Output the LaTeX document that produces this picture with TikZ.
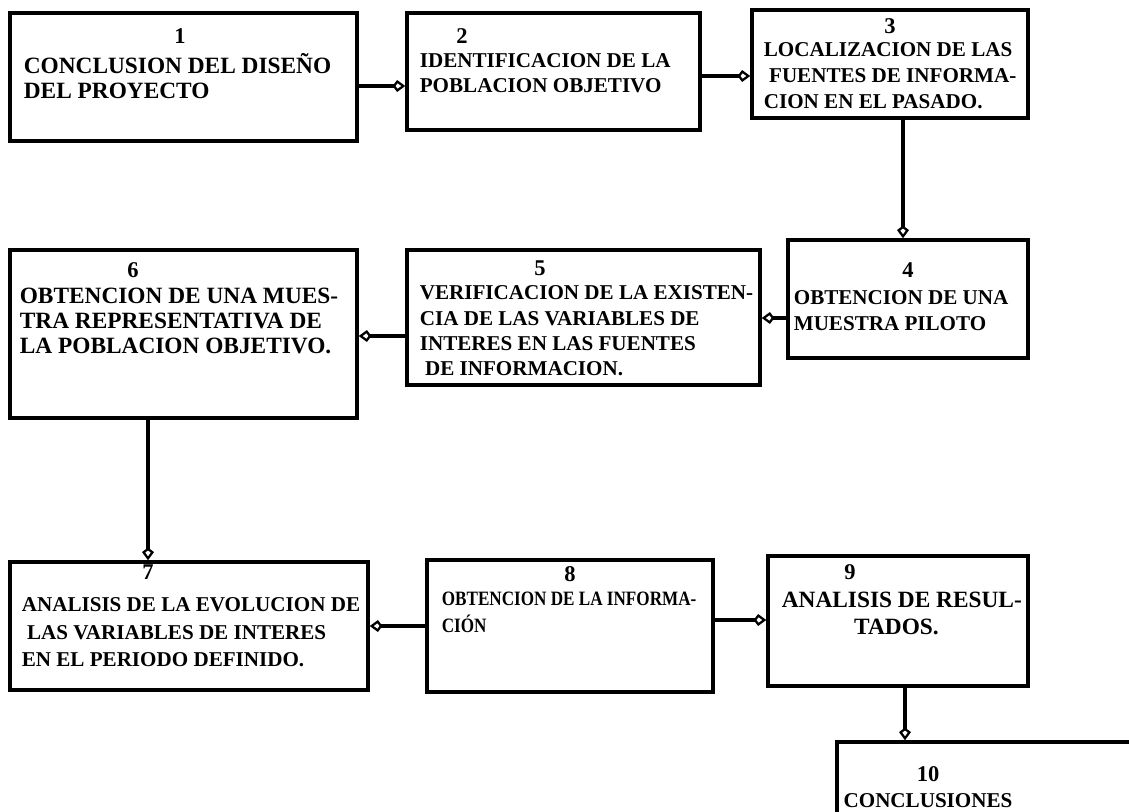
\documentclass[tikz,border=0pt]{standalone}
\usepackage{fontspec}
\setmainfont{Liberation Serif}
\newfontfamily\narrowserif[FakeStretch=0.84]{Liberation Serif}
\usetikzlibrary{arrows.meta,fit,positioning}

\tikzset{
  box/.style={draw, line width=2.5pt, inner sep=0pt, fit={#1}},
  txt/.style 2 args={anchor=north west, align=left, inner sep=0pt,
    font=\fontsize{#1}{#2}\selectfont\bfseries},
  num/.style={inner sep=0pt, font=\fontsize{16}{18}\selectfont\bfseries},
}

\begin{document}
\begin{tikzpicture}[x=0.025cm, y=-0.025cm, >={Kite[open,length=9pt,width=8.5pt,inset=3.2pt,line width=1.6pt]}, line width=2.6pt]
	\clip (0,0) rectangle (1129,811);
	\fill[white] (0,0) rectangle (1129,811);
	% boxes
	\node[box={(10,13) (357,141)}] (b1) {};
	\node[box={(407,13) (700,130)}] (b2) {};
	\node[box={(752,10) (1028,118)}] (b3) {};
	\node[box={(788,240) (1028,358)}] (b4) {};
	\node[box={(407,250) (760,385)}] (b5) {};
	\node[box={(10,250) (357,418)}] (b6) {};
	\node[box={(10,562) (368,690)}] (b7) {};
	\node[box={(427,560) (713,692)}] (b8) {};
	\node[box={(768,556) (1028,686)}] (b9) {};
	\node[box={(837,742) (1150,840)}] (b10) {};
	% numbers
	\node[num] (n1) at (180,36) {1};
	\node[num] (n2) at (462,36) {2};
	\node[num] (n3) at (890,26) {3};
	\node[num] (n4) at (908,270) {4};
	\node[num] (n5) at (540,268) {5};
	\node[num] (n6) at (133,270) {6};
	\node[num] (n7) at (148,572) {7};
	\node[num] (n8) at (570,574) {8};
	\node[num] (n9) at (850,572) {9};
	\node[num] (n10) at (928,774) {10};
	% texts
	\node[txt={16.6}{17.5}] (t1) at (22,52) {CONCLUSION DEL DISEÑO\\DEL PROYECTO};
	\node[txt={15}{17.5}] (t2) at (418,52) {IDENTIFICACION DE LA\\POBLACION OBJETIVO};
	\node[txt={15}{18.5}] (t3) at (762,41) {LOCALIZACION DE LAS\\\ FUENTES DE INFORMA-\\CION EN EL PASADO.};
	\node[txt={15}{18.5}] (t4) at (792,289) {OBTENCION DE UNA\\MUESTRA PILOTO};
	\node[txt={15}{18}] (t5) at (418,284) {VERIFICACION DE LA EXISTEN-\\CIA DE LAS VARIABLES DE\\INTERES EN LAS FUENTES\\\ DE INFORMACION.};
	\node[txt={16.6}{18}] (t6) at (18,286) {OBTENCION DE UNA MUES-\\TRA REPRESENTATIVA DE\\LA POBLACION OBJETIVO.};
	\node[txt={15}{19.6}] (t7) at (20,596) {ANALISIS DE LA EVOLUCION DE\\\ LAS VARIABLES DE INTERES\\EN EL PERIODO DEFINIDO.};
	\node[txt={14.5}{19}, font=\narrowserif\fontsize{14.5}{19}\selectfont\bfseries] (t8) at (440,590) {OBTENCION DE LA INFORMA-\\CIÓN};
	\node[txt={16.6}{19}] (t9) at (780,590) {ANALISIS DE RESUL-\\\hspace{3.1em}TADOS.};
	\node[txt={15}{18}, anchor=center] (t10) at (928,801) {CONCLUSIONES};
	% connectors
	\draw[->] (b1.east |- 0,86) -- (b2.west |- 0,86);
	\draw[->] (b2.east |- 0,76) -- (b3.west |- 0,76);
	\draw[->] (b3.south -| 903,0) -- (b4.north -| 903,0);
	\draw[->] (b4.west |- 0,318) -- (b5.east |- 0,318);
	\draw[->] (b5.west |- 0,336) -- (b6.east |- 0,336);
	\draw[->] (b6.south -| 148,0) -- (b7.north -| 148,0);
	\draw[->] (b8.west |- 0,626) -- (b7.east |- 0,626);
	\draw[->] (b8.east |- 0,620) -- (b9.west |- 0,620);
	\draw[->] (b9.south -| 905,0) -- (b10.north -| 905,0);
\end{tikzpicture}
\end{document}
